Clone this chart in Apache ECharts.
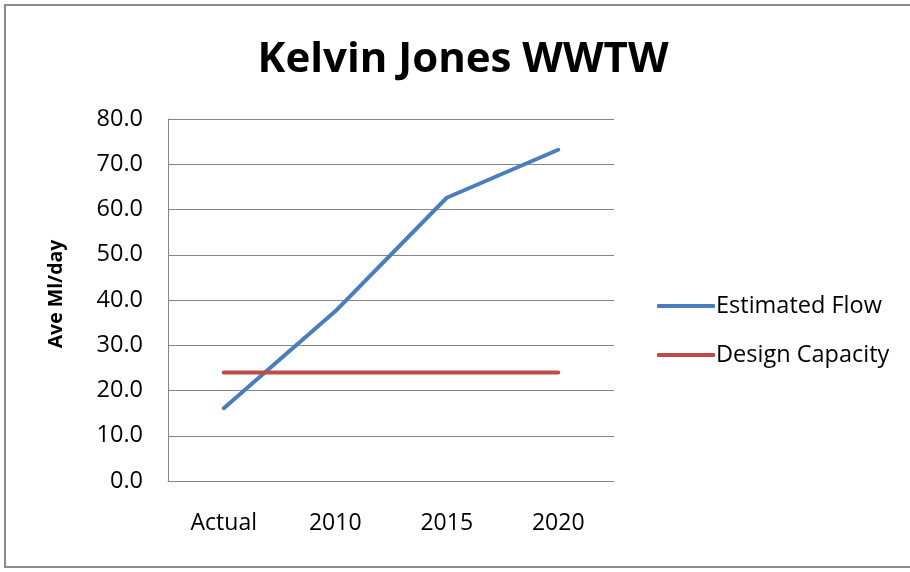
<!DOCTYPE html>
<html>
<head>
<meta charset="utf-8">
<script src="https://cdn.jsdelivr.net/npm/echarts@6/dist/echarts.min.js"></script>
<style>
  html, body { margin: 0; padding: 0; background: #fff; overflow: hidden; }
  #frame { position: absolute; left: 4px; top: 4px; width: 920px; height: 564px; border: 2px solid #8a8a8a; box-sizing: border-box; }
  #chart { position: absolute; left: 0; top: 0; width: 910px; height: 572px; }
</style>
</head>
<body>
<div id="frame"></div>
<div id="chart"></div>
<script>
// Kelvin Jones WWTW average flow projections
const categories = ['Actual', '2010', '2015', '2020'];
const estimatedFlow = [16.1, 37.5, 62.6, 73.2];
const designCapacity = [24.0, 24.0, 24.0, 24.0];
const yTicks = { min: 0, max: 80, interval: 10 };

const font = '"Open Sans", "DejaVu Sans", sans-serif';
const chart = echarts.init(document.getElementById('chart'), null, { renderer: 'canvas' });

chart.setOption({
  animation: false,
  backgroundColor: 'transparent',
  title: {
    text: 'Kelvin Jones WWTW',
    left: 458, top: 34, textAlign: 'center',
    textStyle: { fontFamily: font, fontWeight: 'bold', fontSize: 42, color: '#000' }
  },
  legend: {
    orient: 'vertical',
    left: 652, top: 289,
    itemWidth: 58, itemHeight: 4, itemGap: 25,
    icon: 'roundRect',
    textStyle: { fontFamily: font, fontSize: 23.5, color: '#000', padding: [0, 0, 0, -4] },
    data: ['Estimated Flow', 'Design Capacity']
  },
  grid: { left: 168, top: 119, width: 446, height: 362 },
  xAxis: {
    type: 'category',
    data: categories,
    boundaryGap: true,
    axisLine: { show: true, lineStyle: { color: '#868686', width: 1 } },
    axisTick: { show: false },
    axisLabel: { fontFamily: font, fontSize: 23, color: '#000', margin: 31 }
  },
  yAxis: {
    type: 'value',
    min: yTicks.min, max: yTicks.max, interval: yTicks.interval,
    name: 'Ave Ml/day',
    nameLocation: 'middle',
    nameGap: 102,
    nameRotate: 90,
    nameTextStyle: { fontFamily: font, fontWeight: 'bold', fontSize: 19.5, color: '#000', padding: [0, 0, 0, 12] },
    axisLine: { show: true, lineStyle: { color: '#868686', width: 1 } },
    axisTick: { show: false },
    splitLine: { show: true, lineStyle: { color: '#868686', width: 1 } },
    axisLabel: { fontFamily: font, fontSize: 23.5, color: '#000', margin: 25, formatter: v => v.toFixed(1) }
  },
  series: [
    {
      name: 'Estimated Flow', type: 'line', data: estimatedFlow,
      symbol: 'none', color: '#4a7ebb',
      lineStyle: { width: 4, color: '#4a7ebb', cap: 'round', join: 'round' }
    },
    {
      name: 'Design Capacity', type: 'line', data: designCapacity,
      symbol: 'none', color: '#be4b48',
      lineStyle: { width: 4, color: '#be4b48', cap: 'round', join: 'round' }
    }
  ]
});
</script>
</body>
</html>
